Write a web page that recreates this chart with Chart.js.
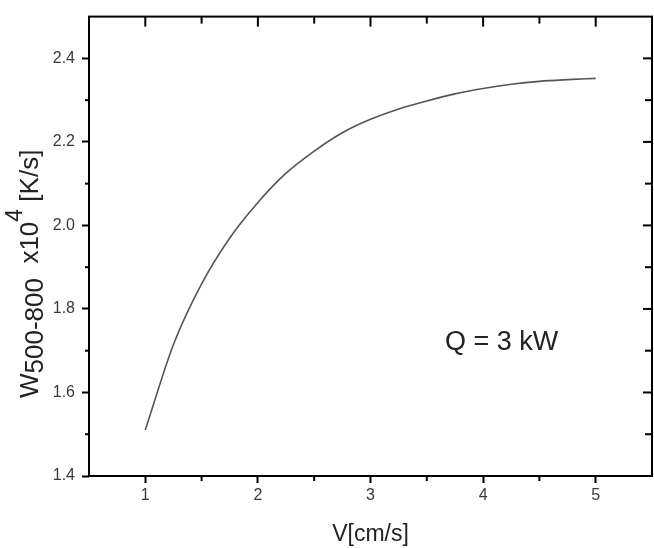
<!DOCTYPE html>
<html>
<head>
<meta charset="utf-8">
<script src="https://cdn.jsdelivr.net/npm/chart.js@4.4.1/dist/chart.umd.min.js"></script>
<style>
  html, body { margin: 0; padding: 0; background: #fff; }
  #wrap { width: 654px; height: 548px; }
</style>
</head>
<body>
<div id="wrap"><canvas id="chart" width="654" height="548"></canvas></div>
<script>
// values
const vValues = [1.0, 1.25, 1.5, 1.75, 2.0, 2.25, 2.5, 2.75, 3.0, 3.25, 3.5, 3.75, 4.0, 4.25, 4.5, 4.75, 5.0];
const wValues = [1.51, 1.715, 1.86, 1.97, 2.055, 2.125, 2.178, 2.222, 2.254, 2.279, 2.298, 2.315, 2.328, 2.338, 2.345, 2.349, 2.352];

const xMajorTicks = [1, 2, 3, 4, 5];
const xMinorTicks = [1.5, 2.5, 3.5, 4.5];
const yMajorTicks = [1.4, 1.6, 1.8, 2.0, 2.2, 2.4];
const yMinorTicks = [1.5, 1.7, 1.9, 2.1, 2.3];

const labelFont = 'Liberation Sans, Arial, sans-serif';

// frame, minor ticks, mirrored ticks, y title and the note
const framePlugin = {
  id: 'frame',
  afterDraw(chart) {
    const ctx = chart.ctx;
    const area = chart.chartArea;
    const xs = chart.scales.x;
    const ys = chart.scales.y;

    ctx.save();
    ctx.strokeStyle = '#000';
    ctx.lineWidth = 2;
    ctx.strokeRect(area.left, area.top, area.right - area.left, area.bottom - area.top);

    function tick(x1, y1, x2, y2) {
      ctx.beginPath();
      ctx.moveTo(x1, y1);
      ctx.lineTo(x2, y2);
      ctx.stroke();
    }

    // minor ticks outside on bottom / left
    xMinorTicks.forEach(v => {
      const px = xs.getPixelForValue(v);
      tick(px, area.bottom, px, area.bottom + 5);
    });
    yMinorTicks.forEach(v => {
      const py = ys.getPixelForValue(v);
      tick(area.left, py, area.left - 4, py);
    });

    // mirrored ticks inside on top / right
    xMajorTicks.forEach(v => {
      const px = xs.getPixelForValue(v);
      tick(px, area.top, px, area.top + 10);
    });
    xMinorTicks.forEach(v => {
      const px = xs.getPixelForValue(v);
      tick(px, area.top, px, area.top + 7);
    });
    yMajorTicks.forEach(v => {
      const py = ys.getPixelForValue(v);
      tick(area.right, py, area.right - 9, py);
    });
    yMinorTicks.forEach(v => {
      const py = ys.getPixelForValue(v);
      tick(area.right, py, area.right - 7, py);
    });

    // y title with subscript and superscript
    ctx.fillStyle = '#222';
    ctx.textBaseline = 'alphabetic';
    ctx.textAlign = 'left';
    ctx.translate(38, 398);
    ctx.rotate(-Math.PI / 2);
    const parts = [
      { t: 'W', size: 26, dy: 0 },
      { t: '500-800', size: 26, dy: 5 },
      { t: '  x10', size: 26, dy: 0 },
      { t: '4', size: 23, dy: -16 },
      { t: ' [K/s]', size: 26, dy: 0 }
    ];
    let cx = 0;
    parts.forEach(p => {
      ctx.font = p.size + 'px ' + labelFont;
      ctx.fillText(p.t, cx, p.dy);
      cx += ctx.measureText(p.t).width;
    });
    ctx.restore();

    ctx.save();
    ctx.fillStyle = '#222';
    ctx.font = '27px ' + labelFont;
    ctx.textBaseline = 'alphabetic';
    ctx.fillText('Q = 3 kW', 445, 350);
    ctx.restore();
  }
};

new Chart(document.getElementById('chart'), {
  type: 'line',
  data: {
    datasets: [{
      data: vValues.map((v, i) => ({ x: v, y: wValues[i] })),
      borderColor: '#555',
      borderWidth: 1.6,
      pointRadius: 0,
      fill: false,
      cubicInterpolationMode: 'monotone'
    }]
  },
  options: {
    responsive: false,
    animation: false,
    layout: { padding: { left: 0, top: 13, right: 2, bottom: 0 } },
    plugins: {
      legend: { display: false },
      tooltip: { enabled: false }
    },
    scales: {
      x: {
        type: 'linear',
        min: 0.5,
        max: 5.5,
        afterBuildTicks: scale => { scale.ticks = xMajorTicks.map(v => ({ value: v })); },
        afterFit: scale => { scale.height = 72; },
        grid: { drawOnChartArea: false, drawTicks: true, tickLength: 7, tickWidth: 2, tickColor: '#000' },
        border: { display: false },
        ticks: {
          color: '#3a3a3a',
          font: { family: labelFont, size: 16 },
          padding: 3,
          maxRotation: 0,
          callback: v => String(v)
        },
        title: {
          display: true,
          text: 'V[cm/s]',
          color: '#222',
          font: { family: labelFont, size: 23 },
          padding: { top: 0, bottom: 0 }
        }
      },
      y: {
        type: 'linear',
        min: 1.4,
        max: 2.5,
        afterBuildTicks: scale => { scale.ticks = yMajorTicks.map(v => ({ value: v })); },
        afterFit: scale => { scale.width = 89; },
        grid: { drawOnChartArea: false, drawTicks: true, tickLength: 7, tickWidth: 2, tickColor: '#000' },
        border: { display: false },
        ticks: {
          color: '#3a3a3a',
          font: { family: labelFont, size: 16 },
          padding: 7,
          callback: v => v.toFixed(1)
        }
      }
    }
  },
  plugins: [framePlugin]
});
</script>
</body>
</html>
